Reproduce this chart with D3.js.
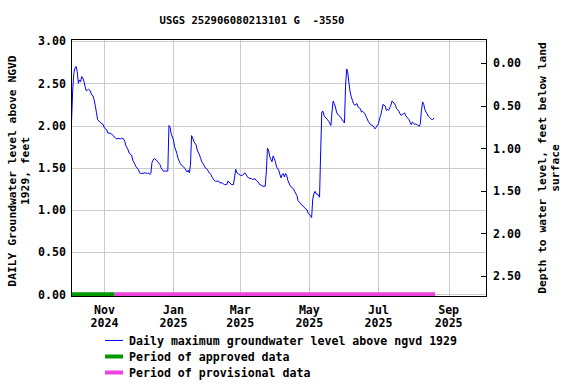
<!DOCTYPE html>
<html><head><meta charset="utf-8">
<script src="https://cdn.jsdelivr.net/npm/d3@7"></script>
<style>
body{margin:0;background:#fff}
text{font-family:"DejaVu Sans Mono","Liberation Mono",monospace;font-weight:bold;fill:#000}
</style>
</head><body><svg id="c" width="576" height="384"></svg>
<script>
const title = "USGS 252906080213101 G  -3550";
const leftTitle = ["DAILY Groundwater level above NGVD", "1929, feet"];
const rightTitle = ["Depth to water level, feet below land", "surface"];
const dates = [
"2024-10-03","2024-10-04","2024-10-05","2024-10-06","2024-10-07","2024-10-08","2024-10-09","2024-10-10","2024-10-11","2024-10-12",
"2024-10-13","2024-10-14","2024-10-15","2024-10-16","2024-10-17","2024-10-18","2024-10-19","2024-10-21","2024-10-22","2024-10-23",
"2024-10-24","2024-10-25","2024-10-26","2024-10-28","2024-10-29","2024-10-31",
"2024-11-01","2024-11-03","2024-11-04","2024-11-06","2024-11-07","2024-11-09","2024-11-10","2024-11-12","2024-11-13","2024-11-15",
"2024-11-16","2024-11-18","2024-11-19","2024-11-20","2024-11-22","2024-11-23","2024-11-25","2024-11-26","2024-11-28","2024-11-29",
"2024-12-01","2024-12-02","2024-12-04","2024-12-07","2024-12-09","2024-12-10","2024-12-11","2024-12-12","2024-12-13","2024-12-14",
"2024-12-15","2024-12-17","2024-12-18","2024-12-20","2024-12-21","2024-12-23","2024-12-26","2024-12-27","2024-12-28","2024-12-29","2024-12-30",
"2025-01-01","2025-01-02","2025-01-04","2025-01-05","2025-01-07","2025-01-08","2025-01-10","2025-01-11","2025-01-13","2025-01-14",
"2025-01-15","2025-01-16","2025-01-17","2025-01-18","2025-01-19","2025-01-21","2025-01-22","2025-01-24","2025-01-25","2025-01-26",
"2025-01-28","2025-01-29","2025-01-31",
"2025-02-01","2025-02-03","2025-02-04","2025-02-06","2025-02-07","2025-02-10","2025-02-11","2025-02-13","2025-02-14","2025-02-15",
"2025-02-17","2025-02-18","2025-02-20","2025-02-21","2025-02-23","2025-02-24","2025-02-25","2025-02-26","2025-02-27",
"2025-03-01","2025-03-03","2025-03-05","2025-03-07","2025-03-08","2025-03-11","2025-03-12","2025-03-14","2025-03-15","2025-03-17",
"2025-03-18","2025-03-20","2025-03-21","2025-03-23","2025-03-24","2025-03-25","2025-03-26","2025-03-27","2025-03-28","2025-03-29",
"2025-03-30","2025-03-31",
"2025-04-01","2025-04-02","2025-04-04","2025-04-05","2025-04-06","2025-04-07","2025-04-08","2025-04-09","2025-04-10","2025-04-11",
"2025-04-12","2025-04-14","2025-04-15","2025-04-17","2025-04-18","2025-04-20","2025-04-21","2025-04-23","2025-04-24","2025-04-26",
"2025-04-27","2025-04-29","2025-04-30",
"2025-05-02","2025-05-03","2025-05-04","2025-05-05","2025-05-06","2025-05-07","2025-05-09","2025-05-10","2025-05-11","2025-05-12",
"2025-05-13","2025-05-14","2025-05-15","2025-05-17","2025-05-18","2025-05-19","2025-05-20","2025-05-21","2025-05-22","2025-05-23",
"2025-05-24","2025-05-25","2025-05-26","2025-05-28","2025-05-29","2025-05-31",
"2025-06-01","2025-06-02","2025-06-03","2025-06-04","2025-06-05","2025-06-06","2025-06-07","2025-06-08","2025-06-09","2025-06-10",
"2025-06-12","2025-06-13","2025-06-15","2025-06-16","2025-06-17","2025-06-19","2025-06-20","2025-06-21","2025-06-22","2025-06-24",
"2025-06-26","2025-06-27","2025-06-28","2025-06-29",
"2025-07-01","2025-07-02","2025-07-03","2025-07-04","2025-07-05","2025-07-07","2025-07-08","2025-07-09","2025-07-10","2025-07-11",
"2025-07-12","2025-07-13","2025-07-14","2025-07-16","2025-07-17","2025-07-19","2025-07-20","2025-07-21","2025-07-23","2025-07-24",
"2025-07-25","2025-07-26","2025-07-28","2025-07-29","2025-07-30","2025-07-31",
"2025-08-01","2025-08-02","2025-08-03","2025-08-04","2025-08-06","2025-08-07","2025-08-08","2025-08-09","2025-08-10","2025-08-11",
"2025-08-12","2025-08-13","2025-08-14","2025-08-15","2025-08-17","2025-08-18","2025-08-19"
];
const levels = [
2.05,2.42,2.62,2.68,2.70,2.64,2.50,2.54,2.52,2.58,
2.56,2.52,2.46,2.41,2.42,2.43,2.42,2.36,2.35,2.30,
2.23,2.15,2.07,2.04,2.03,2.01,
1.97,1.95,1.91,1.91,1.90,1.88,1.86,1.84,1.85,1.84,
1.85,1.84,1.81,1.76,1.71,1.67,1.65,1.59,1.54,1.51,
1.48,1.44,1.43,1.44,1.43,1.44,1.42,1.43,1.56,1.59,
1.61,1.59,1.57,1.54,1.50,1.46,1.46,1.46,2.00,1.98,1.90,
1.83,1.75,1.67,1.61,1.55,1.53,1.51,1.49,1.45,1.47,
1.44,1.53,1.88,1.85,1.81,1.77,1.71,1.65,1.61,1.57,
1.53,1.50,1.48,
1.45,1.42,1.39,1.35,1.34,1.34,1.32,1.32,1.31,1.30,
1.30,1.34,1.32,1.30,1.30,1.39,1.48,1.44,1.43,
1.41,1.41,1.44,1.40,1.38,1.37,1.36,1.37,1.35,1.33,
1.30,1.29,1.28,1.28,1.45,1.73,1.71,1.63,1.60,1.57,
1.64,1.61,
1.57,1.51,1.47,1.42,1.38,1.42,1.43,1.39,1.43,1.41,
1.35,1.29,1.27,1.25,1.22,1.17,1.11,1.08,1.06,1.04,
1.02,1.00,0.96,
0.93,0.91,1.13,1.19,1.22,1.19,1.18,1.15,1.70,2.16,
2.17,2.12,2.10,2.07,2.05,2.03,2.00,2.16,2.29,2.26,
2.22,2.16,2.13,2.11,2.09,2.05,
2.03,2.48,2.67,2.62,2.50,2.40,2.34,2.30,2.26,2.24,
2.26,2.22,2.20,2.16,2.17,2.14,2.11,2.08,2.05,2.01,
2.00,1.98,1.96,1.98,
2.02,2.08,2.12,2.18,2.25,2.23,2.18,2.19,2.18,2.21,
2.24,2.29,2.28,2.24,2.20,2.17,2.14,2.12,2.14,2.15,
2.12,2.10,2.07,2.04,2.01,2.04,
2.03,2.01,2.02,2.01,1.99,2.02,2.18,2.28,2.25,2.19,
2.16,2.14,2.11,2.10,2.07,2.07,2.09
];
const leftTicks = [0, 0.5, 1, 1.5, 2, 2.5, 3];
const rightTicks = [0, 0.5, 1, 1.5, 2, 2.5];
const monthTicks = ["2024-11-01","2025-01-01","2025-03-01","2025-05-01","2025-07-01","2025-09-01"];
const monthLabels = ["Nov","Jan","Mar","May","Jul","Sep"];
const yearLabels = ["2024","2025","2025","2025","2025","2025"];
const approvedPeriod = ["2024-10-03","2024-11-10"];
const provisionalPeriod = ["2024-11-10","2025-08-20"];
const legendLabels = ["Daily maximum groundwater level above ngvd 1929","Period of approved data","Period of provisional data"];
const legendColors = ["#0000ff","#009900","#ee44dd"];

const parse = d3.utcParse("%Y-%m-%d");
const L = 71, R = 486, T = 39, B = 296;
const svg = d3.select("#c");
const x = d3.scaleUtc().domain([new Date(Date.UTC(2024,9,2,12)), new Date(Date.UTC(2025,9,4,0))]).range([L, R]);
const y = d3.scaleLinear().domain([-0.02, 3.025]).range([B, T]);
const yr = d3.scaleLinear().domain([-0.285, 2.735]).range([T, B]);

// grid
const g = svg.append("g").attr("shape-rendering","crispEdges");
g.selectAll("line.h").data(leftTicks).join("line")
  .attr("x1", L).attr("x2", R).attr("y1", d => Math.round(y(d))+0.5).attr("y2", d => Math.round(y(d))+0.5)
  .attr("stroke", "#cccccc");
g.selectAll("line.v").data(monthTicks).join("line")
  .attr("y1", T).attr("y2", B).attr("x1", d => Math.round(x(parse(d)))+0.5).attr("x2", d => Math.round(x(parse(d)))+0.5)
  .attr("stroke", "#cccccc");

// period bars
svg.append("line").attr("x1", x(parse(approvedPeriod[0]))).attr("x2", x(parse(approvedPeriod[1])))
  .attr("y1", y(0)).attr("y2", y(0)).attr("stroke", legendColors[1]).attr("stroke-width", 4);
svg.append("line").attr("x1", x(parse(provisionalPeriod[0]))).attr("x2", x(parse(provisionalPeriod[1])))
  .attr("y1", y(0)).attr("y2", y(0)).attr("stroke", legendColors[2]).attr("stroke-width", 4);

// series
const data = dates.map((d, i) => ({date: parse(d), v: levels[i]}));
svg.append("path").datum(data)
  .attr("d", d3.line().x(d => x(d.date)).y(d => y(d.v)))
  .attr("fill", "none").attr("stroke", legendColors[0]).attr("stroke-width", 1);

// frame
svg.append("rect").attr("x", L+0.5).attr("y", T+0.5).attr("width", R-L).attr("height", B-T)
  .attr("fill", "none").attr("stroke", "#000").attr("shape-rendering","crispEdges");

// left axis
const ax = svg.append("g").attr("transform", `translate(${L},0)`)
  .call(d3.axisLeft(y).tickValues(leftTicks).tickFormat(d3.format(".2f")).tickSize(0).tickPadding(5));
ax.select(".domain").remove();
ax.selectAll("text").style("font-size","11.6px").style("font-family",'"DejaVu Sans Mono",monospace').style("font-weight","bold");

// right axis
const ar = svg.append("g").attr("transform", `translate(${R},0)`)
  .call(d3.axisRight(yr).tickValues(rightTicks).tickFormat(d3.format(".2f")).tickSize(-5).tickPadding(7));
ar.select(".domain").remove();
ar.selectAll("line").attr("stroke","#000").attr("shape-rendering","crispEdges");
ar.selectAll("text").style("font-size","11.6px").style("font-family",'"DejaVu Sans Mono",monospace').style("font-weight","bold");

// bottom labels
const bl = svg.append("g");
monthTicks.forEach((m, i) => {
  const t = bl.append("text").attr("x", x(parse(m))).attr("text-anchor","middle").style("font-size","11.6px");
  t.append("tspan").attr("x", x(parse(m))).attr("y", 314).text(monthLabels[i]);
  t.append("tspan").attr("x", x(parse(m))).attr("y", 327).text(yearLabels[i]);
});

// title
svg.append("text").attr("x", 252).attr("y", 24).attr("text-anchor","middle").style("font-size","10.6px")
  .style("white-space","pre").attr("xml:space","preserve").text(title);

// axis titles
leftTitle.forEach((t, i) => {
  svg.append("text").attr("transform", `translate(${12 + i*13.5},171) rotate(-90)`)
    .attr("text-anchor","middle").attr("dominant-baseline","central").style("font-size","11.3px").text(t);
});
rightTitle.forEach((t, i) => {
  svg.append("text").attr("transform", `translate(${542 + i*13.5},168) rotate(-90)`)
    .attr("text-anchor","middle").attr("dominant-baseline","central").style("font-size","11.3px").text(t);
});

// legend
const lg = svg.append("g");
legendLabels.forEach((t, i) => {
  const yy = 340.5 + i*16;
  lg.append("line").attr("x1", 105).attr("x2", 123).attr("y1", yy).attr("y2", yy)
    .attr("stroke", legendColors[i]).attr("stroke-width", i === 0 ? 1 : 4);
  lg.append("text").attr("x", 129).attr("y", yy + 4.5).style("font-size","11.6px").text(t);
});
</script></body></html>
